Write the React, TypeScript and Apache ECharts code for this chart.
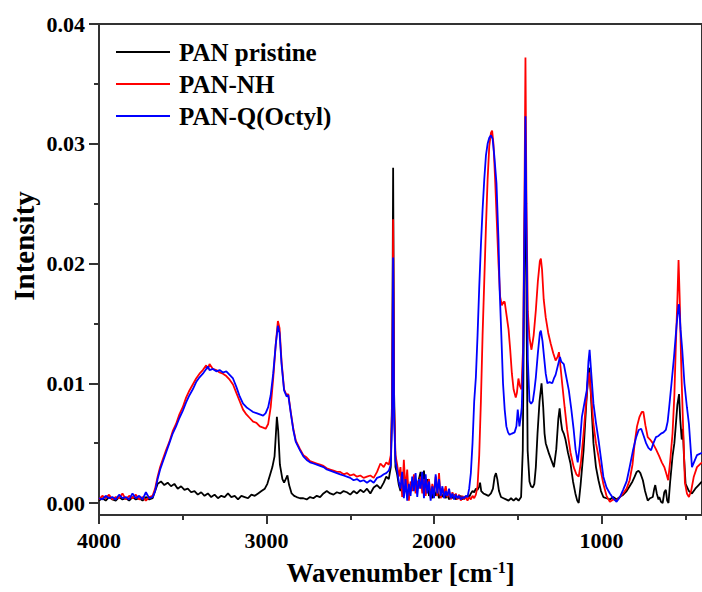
import React, { useEffect, useRef } from "react";
import * as echarts from "echarts";

const seriesNames = ["PAN pristine", "PAN-NH", "PAN-Q(Octyl)"];
const seriesColors = ["#000000", "#ff0000", "#0000ff"];

const xTickValues = [1000, 2000, 3000, 4000];
const xMinorValues = [500, 1500, 2500, 3500];
const yTickValues = [0, 0.01, 0.02, 0.03, 0.04];
const yMinorValues = [0.005, 0.015, 0.025, 0.035];

// PAN pristine
const pristineWn = [
  4000, 3980, 3960, 3940, 3920, 3900, 3880, 3860, 3840, 3820, 3800, 3780, 3760, 3740, 3720, 3700, 3680, 3665, 3650, 3630,
  3610, 3590, 3570, 3550, 3530, 3510, 3490, 3470, 3450, 3430, 3410, 3390, 3370, 3350, 3330, 3310, 3290, 3270, 3250, 3230,
  3210, 3190, 3170, 3150, 3130, 3110, 3090, 3070, 3050, 3030, 3010, 2995, 2980, 2965, 2952, 2945, 2938, 2930, 2920, 2905,
  2895, 2885, 2875, 2865, 2850, 2835, 2820, 2800, 2780, 2760, 2740, 2720, 2700, 2680, 2660, 2640, 2620, 2600, 2580, 2560,
  2540, 2520, 2500, 2480, 2460, 2440, 2420, 2400, 2380, 2360, 2340, 2320, 2300, 2285, 2270, 2258, 2250, 2244, 2238, 2230,
  2220, 2210, 2200, 2190, 2180, 2170, 2160, 2150, 2140, 2130, 2120, 2110, 2100, 2090, 2080, 2070, 2060, 2050, 2040, 2030,
  2020, 2010, 2000, 1990, 1980, 1970, 1960, 1950, 1940, 1930, 1920, 1910, 1900, 1890, 1880, 1870, 1860, 1850, 1840, 1830,
  1820, 1810, 1800, 1790, 1780, 1770, 1760, 1750, 1740, 1730, 1725, 1718, 1705, 1690, 1675, 1660, 1648, 1638, 1630, 1622,
  1612, 1600, 1585, 1570, 1555, 1540, 1525, 1510, 1495, 1480, 1470, 1462, 1454, 1448, 1441, 1430, 1421, 1410, 1401, 1392,
  1382, 1370, 1358, 1348, 1340, 1333, 1322, 1313, 1300, 1284, 1270, 1258, 1250, 1242, 1235, 1225, 1215, 1200, 1185, 1170,
  1156, 1145, 1136, 1125, 1107, 1090, 1078, 1073, 1065, 1048, 1033, 1018, 1003, 989, 970, 950, 930, 910, 891, 870,
  850, 832, 815, 802, 790, 779, 768, 753, 740, 724, 710, 694, 685, 679, 670, 660, 655, 645, 635, 625,
  616, 608, 600, 590, 576, 565, 557, 547, 537, 530, 521, 514, 508, 498, 478, 460, 440, 420, 400,
];
const pristineVal = [
  0.0002, 0.0004, 0.0002, 0.0005, 0.0003, 0.0002, 0.0005, 0.0003, 0.0004, 0.0002, 0.0005, 0.0003, 0.0004, 0.0002, 0.0005, 0.0003, 0.0004, 0.0010, 0.0016, 0.0018,
  0.0015, 0.0017, 0.0014, 0.0016, 0.0012, 0.0014, 0.0011, 0.0012, 0.0009, 0.0010, 0.0007, 0.0009, 0.0006, 0.0008, 0.0005, 0.0007, 0.0004, 0.0006, 0.0005, 0.0008,
  0.0005, 0.0006, 0.0003, 0.0006, 0.0005, 0.0004, 0.0007, 0.0006, 0.0008, 0.0010, 0.0012, 0.0016, 0.0023, 0.0030, 0.0039, 0.0055, 0.0072, 0.0060, 0.0032, 0.0020,
  0.0017, 0.0020, 0.0023, 0.0015, 0.0008, 0.0006, 0.0005, 0.0004, 0.0004, 0.0003, 0.0005, 0.0004, 0.0006, 0.0005, 0.0008, 0.0010, 0.0008, 0.0007, 0.0009, 0.0008,
  0.0010, 0.0009, 0.0007, 0.0010, 0.0008, 0.0011, 0.0009, 0.0012, 0.0008, 0.0013, 0.0015, 0.0012, 0.0017, 0.0022, 0.0020, 0.0030, 0.0090, 0.0280, 0.0090, 0.0030,
  0.0024, 0.0015, 0.0010, 0.0018, 0.0008, 0.0014, 0.0006, 0.0012, 0.0010, 0.0016, 0.0012, 0.0018, 0.0014, 0.0020, 0.0026, 0.0012, 0.0027, 0.0008, 0.0020, 0.0006,
  0.0010, 0.0004, 0.0012, 0.0006, 0.0010, 0.0004, 0.0008, 0.0005, 0.0009, 0.0004, 0.0007, 0.0003, 0.0006, 0.0004, 0.0007, 0.0003, 0.0005, 0.0004, 0.0006, 0.0003,
  0.0005, 0.0004, 0.0006, 0.0005, 0.0008, 0.0010, 0.0009, 0.0012, 0.0011, 0.0014, 0.0017, 0.0010, 0.0008, 0.0007, 0.0006, 0.0008, 0.0012, 0.0022, 0.0025, 0.0020,
  0.0010, 0.0005, 0.0004, 0.0003, 0.0002, 0.0004, 0.0002, 0.0004, 0.0002, 0.0005, 0.0044, 0.0180, 0.0300, 0.0170, 0.0044, 0.0018, 0.0014, 0.0013, 0.0016, 0.0030,
  0.0058, 0.0085, 0.0100, 0.0080, 0.0058, 0.0050, 0.0045, 0.0041, 0.0036, 0.0030, 0.0045, 0.0070, 0.0079, 0.0068, 0.0061, 0.0058, 0.0053, 0.0042, 0.0033, 0.0018,
  0.0008, 0.0002, 0.0000, 0.0015, 0.0044, 0.0085, 0.0110, 0.0113, 0.0095, 0.0050, 0.0030, 0.0019, 0.0010, 0.0005, 0.0004, 0.0003, 0.0005, 0.0003, 0.0005, 0.0007,
  0.0010, 0.0014, 0.0018, 0.0022, 0.0026, 0.0027, 0.0025, 0.0019, 0.0010, 0.0002, 0.0004, 0.0005, 0.0012, 0.0015, 0.0008, 0.0003, 0.0005, 0.0001, 0.0000, 0.0009,
  0.0011, 0.0002, 0.0000, 0.0018, 0.0039, 0.0050, 0.0064, 0.0082, 0.0091, 0.0070, 0.0053, 0.0062, 0.0040, 0.0016, 0.0010, 0.0008, 0.0012, 0.0015, 0.0018,
];

// PAN-NH
const nhWn = [
  4000, 3980, 3960, 3940, 3920, 3900, 3880, 3860, 3840, 3820, 3800, 3780, 3760, 3740, 3720, 3700, 3680, 3665, 3650, 3635,
  3620, 3600, 3580, 3560, 3540, 3520, 3500, 3480, 3460, 3440, 3420, 3400, 3380, 3360, 3350, 3340, 3320, 3300, 3280, 3260,
  3240, 3220, 3200, 3180, 3160, 3140, 3120, 3100, 3080, 3060, 3040, 3020, 3005, 2990, 2975, 2960, 2945, 2932, 2922, 2910,
  2895, 2880, 2870, 2855, 2840, 2825, 2800, 2780, 2760, 2740, 2720, 2700, 2680, 2660, 2640, 2620, 2600, 2580, 2560, 2540,
  2520, 2500, 2480, 2460, 2440, 2420, 2400, 2380, 2360, 2340, 2320, 2300, 2285, 2270, 2258, 2250, 2244, 2238, 2230, 2220,
  2210, 2200, 2190, 2180, 2170, 2160, 2150, 2140, 2130, 2120, 2110, 2100, 2090, 2080, 2070, 2060, 2050, 2040, 2030, 2020,
  2010, 2000, 1990, 1980, 1970, 1960, 1950, 1940, 1930, 1920, 1910, 1900, 1890, 1880, 1870, 1860, 1850, 1840, 1830, 1820,
  1810, 1800, 1790, 1780, 1770, 1760, 1750, 1740, 1730, 1720, 1710, 1700, 1690, 1680, 1670, 1660, 1653, 1645, 1635, 1625,
  1615, 1605, 1595, 1585, 1578, 1568, 1555, 1545, 1535, 1525, 1512, 1505, 1496, 1488, 1478, 1468, 1460, 1454, 1448, 1440,
  1430, 1418, 1405, 1392, 1380, 1368, 1362, 1355, 1345, 1333, 1318, 1303, 1288, 1274, 1262, 1254, 1245, 1235, 1220, 1205,
  1185, 1166, 1150, 1136, 1122, 1107, 1090, 1078, 1073, 1065, 1048, 1033, 1018, 1003, 989, 970, 950, 930, 910, 890,
  871, 850, 832, 815, 802, 788, 773, 760, 750, 738, 724, 710, 694, 675, 655, 640, 625, 612, 602, 590,
  576, 565, 557, 547, 540, 533, 525, 521, 512, 502, 490, 478, 465, 449, 430, 400,
];
const nhVal = [
  0.0003, 0.0006, 0.0004, 0.0007, 0.0003, 0.0005, 0.0004, 0.0008, 0.0003, 0.0006, 0.0004, 0.0007, 0.0003, 0.0005, 0.0002, 0.0005, 0.0006, 0.0012, 0.0022, 0.0030,
  0.0036, 0.0044, 0.0051, 0.0060, 0.0066, 0.0074, 0.0080, 0.0088, 0.0094, 0.0099, 0.0104, 0.0108, 0.0111, 0.0115, 0.0112, 0.0116, 0.0112, 0.0111, 0.0109, 0.0108,
  0.0106, 0.0103, 0.0099, 0.0092, 0.0085, 0.0078, 0.0074, 0.0071, 0.0068, 0.0067, 0.0064, 0.0063, 0.0062, 0.0066, 0.0080, 0.0104, 0.0132, 0.0152, 0.0146, 0.0118,
  0.0095, 0.0090, 0.0091, 0.0076, 0.0062, 0.0052, 0.0045, 0.0040, 0.0038, 0.0035, 0.0034, 0.0033, 0.0032, 0.0031, 0.0029, 0.0028, 0.0027, 0.0026, 0.0026, 0.0024,
  0.0025, 0.0023, 0.0024, 0.0022, 0.0023, 0.0021, 0.0022, 0.0023, 0.0021, 0.0026, 0.0033, 0.0030, 0.0034, 0.0032, 0.0040, 0.0080, 0.0237, 0.0080, 0.0040, 0.0032,
  0.0022, 0.0030, 0.0005, 0.0036, 0.0010, 0.0028, 0.0002, 0.0018, 0.0010, 0.0024, 0.0008, 0.0018, 0.0012, 0.0022, 0.0008, 0.0020, 0.0006, 0.0015, 0.0020, 0.0004,
  0.0016, 0.0008, 0.0022, 0.0006, 0.0025, 0.0004, 0.0012, 0.0008, 0.0014, 0.0005, 0.0010, 0.0003, 0.0009, 0.0004, 0.0008, 0.0003, 0.0007, 0.0002, 0.0006, 0.0003,
  0.0005, 0.0002, 0.0005, 0.0003, 0.0006, 0.0004, 0.0007, 0.0014, 0.0040, 0.0085, 0.0140, 0.0185, 0.0230, 0.0270, 0.0298, 0.0309, 0.0311, 0.0300, 0.0270, 0.0235,
  0.0200, 0.0172, 0.0165, 0.0168, 0.0168, 0.0158, 0.0145, 0.0128, 0.0108, 0.0095, 0.0088, 0.0092, 0.0104, 0.0098, 0.0095, 0.0130, 0.0250, 0.0372, 0.0250, 0.0160,
  0.0138, 0.0128, 0.0140, 0.0161, 0.0185, 0.0202, 0.0204, 0.0195, 0.0170, 0.0155, 0.0142, 0.0133, 0.0125, 0.0119, 0.0122, 0.0126, 0.0114, 0.0100, 0.0080, 0.0061,
  0.0042, 0.0030, 0.0024, 0.0022, 0.0035, 0.0058, 0.0088, 0.0107, 0.0109, 0.0095, 0.0066, 0.0050, 0.0039, 0.0026, 0.0016, 0.0006, 0.0001, 0.0003, 0.0002, 0.0005,
  0.0008, 0.0012, 0.0019, 0.0032, 0.0050, 0.0064, 0.0072, 0.0076, 0.0076, 0.0065, 0.0055, 0.0053, 0.0050, 0.0045, 0.0039, 0.0034, 0.0030, 0.0024, 0.0019, 0.0035,
  0.0058, 0.0090, 0.0128, 0.0170, 0.0203, 0.0170, 0.0120, 0.0100, 0.0060, 0.0017, 0.0008, 0.0005, 0.0010, 0.0022, 0.0030, 0.0034,
];

// PAN-Q(Octyl)
const octylWn = [
  4000, 3980, 3960, 3940, 3920, 3900, 3880, 3860, 3840, 3820, 3800, 3780, 3760, 3740, 3720, 3700, 3680, 3665, 3650, 3635,
  3620, 3600, 3580, 3560, 3540, 3520, 3500, 3480, 3460, 3440, 3420, 3400, 3380, 3360, 3350, 3340, 3320, 3300, 3280, 3260,
  3240, 3220, 3200, 3180, 3160, 3140, 3120, 3100, 3080, 3060, 3040, 3020, 3005, 2990, 2975, 2960, 2945, 2932, 2922, 2910,
  2895, 2880, 2870, 2855, 2840, 2825, 2800, 2780, 2760, 2740, 2720, 2700, 2680, 2660, 2640, 2620, 2600, 2580, 2560, 2540,
  2520, 2500, 2480, 2460, 2440, 2420, 2400, 2380, 2360, 2340, 2320, 2300, 2285, 2270, 2258, 2250, 2244, 2238, 2230, 2220,
  2210, 2200, 2190, 2180, 2170, 2160, 2150, 2140, 2130, 2120, 2110, 2100, 2090, 2080, 2070, 2060, 2050, 2040, 2030, 2020,
  2010, 2000, 1990, 1980, 1970, 1960, 1950, 1940, 1930, 1920, 1910, 1900, 1890, 1880, 1870, 1860, 1850, 1840, 1830, 1820,
  1810, 1800, 1790, 1780, 1770, 1760, 1750, 1740, 1730, 1720, 1710, 1700, 1690, 1680, 1670, 1660, 1650, 1640, 1627, 1615,
  1608, 1598, 1588, 1578, 1568, 1558, 1549, 1535, 1519, 1508, 1500, 1490, 1482, 1476, 1468, 1460, 1454, 1448, 1440, 1430,
  1420, 1410, 1400, 1392, 1380, 1368, 1362, 1352, 1343, 1333, 1323, 1310, 1294, 1284, 1274, 1260, 1248, 1240, 1225, 1210,
  1195, 1180, 1166, 1155, 1142, 1130, 1117, 1100, 1088, 1078, 1071, 1062, 1048, 1033, 1018, 1003, 989, 970, 950, 930,
  910, 890, 871, 850, 832, 812, 793, 778, 763, 748, 734, 720, 704, 690, 675, 660, 645, 630, 616, 605,
  596, 582, 567, 552, 540, 537, 528, 518, 505, 490, 478, 460, 445, 430, 400,
];
const octylVal = [
  0.0004, 0.0003, 0.0006, 0.0004, 0.0005, 0.0003, 0.0007, 0.0004, 0.0005, 0.0003, 0.0008, 0.0004, 0.0006, 0.0003, 0.0009, 0.0004, 0.0005, 0.0010, 0.0020, 0.0028,
  0.0034, 0.0042, 0.0050, 0.0058, 0.0064, 0.0071, 0.0077, 0.0084, 0.0090, 0.0095, 0.0101, 0.0105, 0.0108, 0.0112, 0.0114, 0.0111, 0.0112, 0.0110, 0.0111, 0.0109,
  0.0110, 0.0107, 0.0104, 0.0097, 0.0089, 0.0083, 0.0080, 0.0078, 0.0076, 0.0075, 0.0074, 0.0073, 0.0075, 0.0080, 0.0090, 0.0108, 0.0132, 0.0148, 0.0142, 0.0116,
  0.0094, 0.0089, 0.0090, 0.0075, 0.0061, 0.0051, 0.0044, 0.0039, 0.0036, 0.0034, 0.0033, 0.0032, 0.0031, 0.0030, 0.0028, 0.0027, 0.0026, 0.0025, 0.0024, 0.0023,
  0.0022, 0.0021, 0.0019, 0.0020, 0.0018, 0.0019, 0.0017, 0.0019, 0.0017, 0.0021, 0.0022, 0.0024, 0.0025, 0.0027, 0.0032, 0.0070, 0.0205, 0.0070, 0.0035, 0.0027,
  0.0018, 0.0012, 0.0026, 0.0004, 0.0020, 0.0002, 0.0016, 0.0006, 0.0022, 0.0010, 0.0025, 0.0005, 0.0020, 0.0012, 0.0026, 0.0004, 0.0024, 0.0008, 0.0018, 0.0002,
  0.0014, 0.0004, 0.0024, 0.0008, 0.0020, 0.0006, 0.0014, 0.0004, 0.0010, 0.0006, 0.0012, 0.0004, 0.0008, 0.0003, 0.0007, 0.0004, 0.0006, 0.0003, 0.0005, 0.0004,
  0.0006, 0.0005, 0.0012, 0.0025, 0.0050, 0.0085, 0.0105, 0.0140, 0.0180, 0.0215, 0.0245, 0.0270, 0.0290, 0.0300, 0.0305, 0.0307, 0.0304, 0.0290, 0.0267, 0.0220,
  0.0178, 0.0140, 0.0100, 0.0078, 0.0064, 0.0059, 0.0057, 0.0058, 0.0059, 0.0064, 0.0078, 0.0064, 0.0072, 0.0080, 0.0120, 0.0230, 0.0323, 0.0230, 0.0120, 0.0085,
  0.0083, 0.0085, 0.0095, 0.0105, 0.0125, 0.0142, 0.0144, 0.0135, 0.0122, 0.0108, 0.0100, 0.0101, 0.0100, 0.0104, 0.0107, 0.0115, 0.0122, 0.0118, 0.0116, 0.0105,
  0.0094, 0.0078, 0.0061, 0.0045, 0.0034, 0.0048, 0.0072, 0.0085, 0.0094, 0.0118, 0.0128, 0.0110, 0.0083, 0.0067, 0.0053, 0.0037, 0.0022, 0.0013, 0.0008, 0.0004,
  0.0001, 0.0005, 0.0011, 0.0018, 0.0030, 0.0044, 0.0055, 0.0061, 0.0062, 0.0056, 0.0050, 0.0046, 0.0044, 0.0050, 0.0055, 0.0056, 0.0058, 0.0059, 0.0061, 0.0068,
  0.0080, 0.0100, 0.0122, 0.0148, 0.0165, 0.0166, 0.0145, 0.0128, 0.0100, 0.0080, 0.0066, 0.0030, 0.0035, 0.0040, 0.0042,
];

const FONT = "'Liberation Serif', 'Times New Roman', serif";
const AXIS_COLOR = "#333333";

function pairs(wn: number[], val: number[]) {
  return wn.map((w, i) => [w, val[i]]);
}

export default function App() {
  const ref = useRef<HTMLDivElement>(null);

  useEffect(() => {
    if (!ref.current) return;
    const chart = echarts.init(ref.current, undefined, { renderer: "svg" });

    const xBase = {
      type: "value",
      min: 400,
      max: 4000,
      inverse: true,
      position: "bottom",
      splitLine: { show: false },
    };
    const yBase = {
      type: "value",
      min: -0.001,
      max: 0.04,
      position: "left",
      splitLine: { show: false },
    };

    const dataSets = [
      pairs(pristineWn, pristineVal),
      pairs(nhWn, nhVal),
      pairs(octylWn, octylVal),
    ];

    chart.setOption({
      animation: false,
      backgroundColor: "#ffffff",
      grid: {
        left: 99,
        top: 24,
        width: 611,
        height: 492,
        show: true,
        borderColor: AXIS_COLOR,
        borderWidth: 2,
        backgroundColor: "transparent",
      },
      legend: {
        data: seriesNames,
        orient: "vertical",
        left: 116,
        top: 38,
        padding: 0,
        itemWidth: 54,
        itemHeight: 2,
        itemGap: 4,
        icon: "rect",
        textStyle: {
          fontFamily: FONT,
          fontWeight: "bold",
          fontSize: 25,
          lineHeight: 28,
          color: "#000",
          padding: [0, 0, 0, 4],
        },
      },
      graphic: [
        {
          type: "text",
          x: 24,
          y: 246,
          rotation: Math.PI / 2,
          style: {
            text: "Intensity",
            fontFamily: FONT,
            fontWeight: "bold",
            fontSize: 29,
            fill: "#000",
            align: "center",
            verticalAlign: "middle",
          },
        },
      ],
      xAxis: [
        {
          ...xBase,
          name: "Wavenumber [cm{sup|-1}]",
          nameLocation: "middle",
          nameGap: 44,
          nameTextStyle: {
            fontFamily: FONT,
            fontWeight: "bold",
            fontSize: 27,
            color: "#000",
            rich: {
              sup: {
                fontFamily: FONT,
                fontWeight: "bold",
                fontSize: 16,
                color: "#000",
                verticalAlign: "top",
                lineHeight: 16,
                padding: [0, 0, 12, 0],
              },
            },
          },
          axisLine: { show: true, onZero: false, lineStyle: { color: AXIS_COLOR, width: 2 } },
          axisTick: { show: true, customValues: xTickValues, length: 9, lineStyle: { color: AXIS_COLOR, width: 2 } },
          axisLabel: {
            customValues: xTickValues,
            margin: 14,
            fontFamily: FONT,
            fontWeight: "bold",
            fontSize: 22,
            color: "#000",
            formatter: (v: number) => String(v),
          },
        },
        {
          ...xBase,
          axisLine: { show: false, onZero: false },
          axisTick: { show: true, customValues: xMinorValues, length: 5, lineStyle: { color: AXIS_COLOR, width: 2 } },
          axisLabel: { show: false },
        },
      ],
      yAxis: [
        {
          ...yBase,
          axisLine: { show: true, onZero: false, lineStyle: { color: AXIS_COLOR, width: 2 } },
          axisTick: { show: true, customValues: yTickValues, length: 10, lineStyle: { color: AXIS_COLOR, width: 2 } },
          axisLabel: {
            customValues: yTickValues,
            margin: 14,
            fontFamily: FONT,
            fontWeight: "bold",
            fontSize: 22,
            color: "#000",
            formatter: (v: number) => v.toFixed(2),
          },
        },
        {
          ...yBase,
          axisLine: { show: false, onZero: false },
          axisTick: { show: true, customValues: yMinorValues, length: 5, lineStyle: { color: AXIS_COLOR, width: 2 } },
          axisLabel: { show: false },
        },
      ],
      series: seriesNames.map((name, i) => ({
        name,
        type: "line",
        xAxisIndex: 0,
        yAxisIndex: 0,
        data: dataSets[i],
        showSymbol: false,
        symbol: "none",
        color: seriesColors[i],
        lineStyle: { color: seriesColors[i], width: 1.8 },
        z: 2 + i,
      })),
    });

    return () => {
      chart.dispose();
    };
  }, []);

  return (
    <div
      ref={ref}
      style={{ position: "absolute", left: 0, top: 0, width: 702, height: 592, background: "#fff" }}
    />
  );
}
